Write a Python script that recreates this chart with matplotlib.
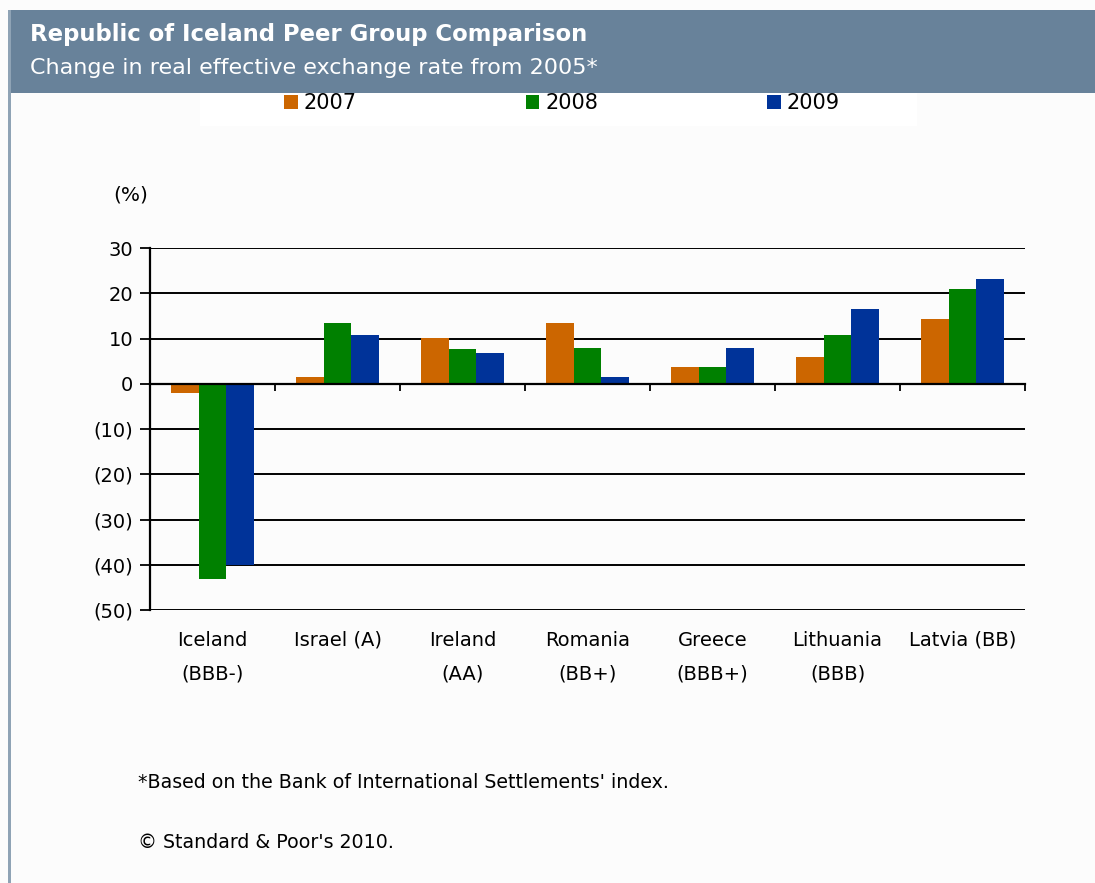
import matplotlib
matplotlib.use("Agg")
import matplotlib.pyplot as plt
from matplotlib.patches import Rectangle
import matplotlib.transforms as mtransforms
import numpy as np

plt.rcParams['font.family'] = ['DejaVu Sans']

categories = ["Iceland\n(BBB-)", "Israel (A)", "Ireland\n(AA)", "Romania\n(BB+)",
              "Greece\n(BBB+)", "Lithuania\n(BBB)", "Latvia (BB)"]
series_names = ["2007", "2008", "2009"]
v2007 = [-2.1, 1.5, 10.2, 13.4, 3.7, 5.9, 14.3]
v2008 = [-43.2, 13.4, 7.7, 8.0, 3.7, 10.7, 20.9]
v2009 = [-40.0, 10.7, 6.8, 1.5, 8.0, 16.5, 23.1]
yticks = [30, 20, 10, 0, -10, -20, -30, -40, -50]
ytick_labels = ["30", "20", "10", "0", "(10)", "(20)", "(30)", "(40)", "(50)"]
colors = ["#CC6600", "#008000", "#003399"]

W, H = 1095, 883
fig = plt.figure(figsize=(W / 100, H / 100), dpi=100)
fig.patch.set_facecolor("#FCFCFC")

def fx(px):
    return px / W

def fy(py):
    return 1 - py / H

# header band
fig.patches.append(Rectangle((fx(10), fy(93)), fx(1095 - 10), 83 / H,
                             transform=fig.transFigure, facecolor="#68829A",
                             edgecolor="none", zorder=0))
# left border
fig.patches.append(Rectangle((fx(8), 0), 2.5 / W, fy(10),
                             transform=fig.transFigure, facecolor="#8FA3B5",
                             edgecolor="none", zorder=0))
# legend white box
fig.patches.append(Rectangle((fx(200), fy(126)), fx(717), 33 / H,
                             transform=fig.transFigure, facecolor="white",
                             edgecolor="none", zorder=0))

fig.text(fx(30), fy(34), "Republic of Iceland Peer Group Comparison", color="white",
         fontsize=16.4, fontweight="bold", va="center", ha="left")
fig.text(fx(30), fy(68), "Change in real effective exchange rate from 2005*", color="white",
         fontsize=16, va="center", ha="left")

ax = fig.add_axes([fx(150), fy(610), fx(1025 - 150), (610 - 248) / H])
ax.set_facecolor("#FCFCFC")

x = np.arange(len(categories))
bw = 0.223
for i, (vals, c, name) in enumerate(zip([v2007, v2008, v2009], colors, series_names)):
    ax.bar(x + (i - 1) * bw, vals, width=bw, color=c, label=name, zorder=3,
           edgecolor="none")

ax.set_xlim(-0.5, len(categories) - 0.5)
ax.set_ylim(-50, 30)
ax.set_yticks(yticks)
ax.set_yticklabels(ytick_labels, fontsize=14)
ax.tick_params(axis="y", direction="out", length=7, width=1.3, pad=5, colors="black")
ax.yaxis.grid(True, color="black", linewidth=1.4, zorder=1)
ax.set_axisbelow(True)

for s in ["top", "right"]:
    ax.spines[s].set_visible(False)
ax.spines["left"].set_linewidth(1.6)
ax.spines["bottom"].set_position(("data", 0))
ax.spines["bottom"].set_linewidth(1.6)
ax.spines["bottom"].set_zorder(4)
ax.set_xticks(np.arange(-0.5, len(categories), 1.0))
ax.set_xticklabels([])
ax.tick_params(axis="x", direction="out", length=5, width=1.3)

trans = mtransforms.blended_transform_factory(ax.transData, fig.transFigure)
for xi, lab in zip(x, categories):
    ax.text(xi, fy(631), lab, transform=trans, ha="center", va="top",
            fontsize=14, linespacing=1.95)

fig.text(fx(131), fy(195), "(%)", fontsize=14.5, ha="center", va="center")

leg = fig.legend(loc="center", bbox_to_anchor=(fx(562), fy(103)), ncol=3,
                 frameon=False, fontsize=15, handlelength=0.65, handleheight=0.65,
                 handletextpad=0.3, columnspacing=8.1)

fig.text(fx(138), fy(782), "*Based on the Bank of International Settlements' index.",
         fontsize=13.7, ha="left", va="center")
fig.text(fx(138), fy(843), "\u00a9 Standard & Poor's 2010.",
         fontsize=13.7, ha="left", va="center")

fig.savefig("out.png", dpi=100, facecolor=fig.get_facecolor())
